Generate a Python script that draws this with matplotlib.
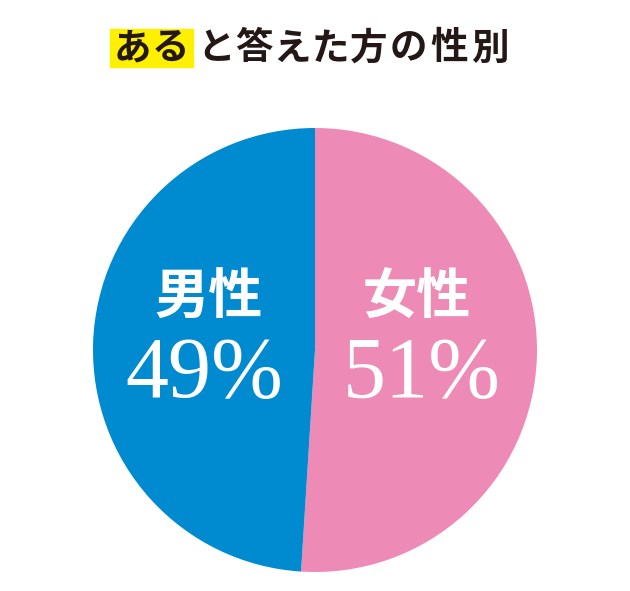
import matplotlib.pyplot as plt

# データ
labels = ['女性', '男性']
values = [51, 49]
colors = ['#EE8AB6', '#008BD0']
title_hl = 'ある'
title_rest = 'と答えた方の性別'

W, H = 630, 591
fig = plt.figure(figsize=(W / 100, H / 100), dpi=100)
fig.patch.set_facecolor('white')

# 円グラフ (中心 315,350 px / 半径 222 px)
cx, cy, r = 315, 350, 222
ax = fig.add_axes([(cx - r) / W, (H - cy - r) / H, 2 * r / W, 2 * r / H])
ax.pie(values, colors=colors, startangle=90, counterclock=False,
       wedgeprops=dict(linewidth=0))
ax.set_xlim(-1, 1)
ax.set_ylim(-1, 1)
ax.set_aspect('equal')
ax.axis('off')

jp = ['Noto Sans CJK JP', 'DejaVu Sans']
pos_x = {'女性': 0.46, '男性': -0.48}
num_x = {'女性': 0.48, '男性': -0.50}
for lab, v in zip(labels, values):
    ax.text(pos_x[lab], 0.235, lab, family=jp, fontweight='bold', fontsize=39,
            color='white', ha='center', va='center')
    ax.text(num_x[lab], -0.12, '%d%%' % v, family='Liberation Serif', fontsize=62,
            color='white', ha='center', va='center')

# タイトル (一文字ずつ配置)
ty = 1 - 48 / H
xs_hl = [132, 170]
xs_rest = [216, 254, 292, 330, 369, 408, 449, 490]
fig.patches.append(plt.Rectangle((110 / W, 1 - 67 / H), 83 / W, 38 / H,
                                 transform=fig.transFigure, color='#FFF000',
                                 zorder=0))
for ch, x in zip(title_hl, xs_hl):
    fig.text(x / W, ty, ch, family=jp, fontweight='bold', fontsize=27,
             color='#231815', ha='center', va='center')
for ch, x in zip(title_rest, xs_rest):
    fig.text(x / W, ty, ch, family=jp, fontweight='bold', fontsize=27,
             color='#231815', ha='center', va='center')

fig.savefig('out.png', dpi=100, facecolor='white')
